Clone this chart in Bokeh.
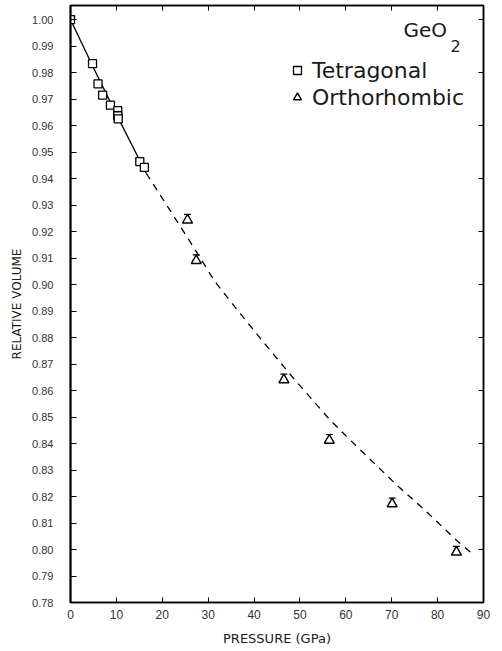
from bokeh.plotting import figure
from bokeh.models import (ColumnDataSource, Whisker, TeeHead, Legend, LegendItem,
                          Label, LinearAxis, FixedTicker, Range1d, PrintfTickFormatter,
                          CustomJSTickFormatter)
from bokeh.embed import file_html
from bokeh.resources import INLINE

# ---- data ----
tet_p = [0.0, 4.8, 6.0, 7.0, 8.7, 10.3, 10.3, 10.4, 15.1, 16.1]
tet_v = [1.000, 0.9834, 0.9757, 0.9715, 0.9677, 0.9656, 0.9637, 0.9625, 0.9464, 0.9442]

ort_p = [25.5, 27.4, 46.5, 56.4, 70.1, 84.1]
ort_v = [0.9243, 0.9090, 0.8640, 0.8412, 0.8172, 0.7990]
ort_err = [0.0022, 0.0022, 0.0022, 0.0022, 0.0022, 0.0022]

fit_solid_p = [0.0, 5.0, 10.0, 16.5]
fit_solid_v = [1.000, 0.9818, 0.9642, 0.9420]
fit_dash_p = [16.5, 22.8, 27.2, 31.5, 37.0, 41.7, 48.2, 56.5, 62.3, 71.0, 77.5, 84.1, 87.5]
fit_dash_v = [0.9420, 0.9250, 0.9130, 0.9010, 0.8890, 0.8790, 0.8654, 0.8490, 0.8390,
              0.8245, 0.8144, 0.8035, 0.7985]

x_ticks = [0, 10, 20, 30, 40, 50, 60, 70, 80, 90]
y_ticks = [0.78, 0.79, 0.80, 0.81, 0.82, 0.83, 0.84, 0.85, 0.86, 0.87, 0.88, 0.89,
           0.90, 0.91, 0.92, 0.93, 0.94, 0.95, 0.96, 0.97, 0.98, 0.99, 1.00]
y_ticks_right = [0.78, 0.80, 0.82, 0.84, 0.86, 0.88, 0.90, 0.92, 0.94, 0.96, 0.98, 1.00]

TICK_FONT = "Liberation Sans"
LABEL_FONT = "DejaVu Sans"
INK = "#1a1a1a"

p = figure(width=494, height=650, x_range=Range1d(0, 90), y_range=Range1d(0.78, 1.0053),
           output_backend="svg", toolbar_location=None,
           min_border_left=70, min_border_right=11, min_border_top=5, min_border_bottom=48)
p.xgrid.visible = False
p.ygrid.visible = False
p.outline_line_color = "black"
p.outline_line_width = 1.5
p.background_fill_color = "white"
p.border_fill_color = "white"

# bottom axis
xa = p.xaxis[0]
xa.ticker = FixedTicker(ticks=x_ticks, minor_ticks=[])
xa.formatter = PrintfTickFormatter(format="%d")
xa.major_tick_in = 5
xa.major_tick_out = 0
xa.minor_tick_in = 0
xa.minor_tick_out = 0
xa.axis_line_width = 1.5
xa.major_label_text_font = TICK_FONT
xa.major_label_text_font_size = "12px"
xa.major_label_text_color = "#333333"
xa.major_label_standoff = 7
xa.axis_label = "PRESSURE (GPa)"
xa.axis_label_text_font = LABEL_FONT
xa.axis_label_text_font_size = "13px"
xa.axis_label_text_font_style = "normal"
xa.axis_label_text_color = INK
xa.axis_label_standoff = 9

# left axis
ya = p.yaxis[0]
ya.ticker = FixedTicker(ticks=y_ticks, minor_ticks=[])
ya.formatter = PrintfTickFormatter(format="%.2f")
ya.major_tick_in = 6
ya.major_tick_out = 0
ya.minor_tick_in = 0
ya.minor_tick_out = 0
ya.axis_line_width = 2
ya.major_label_text_font = TICK_FONT
ya.major_label_text_font_size = "11px"
ya.major_label_text_color = "#333333"
ya.major_label_standoff = 17
ya.axis_label = "RELATIVE VOLUME"
ya.axis_label_text_font = LABEL_FONT
ya.axis_label_text_font_size = "12px"
ya.axis_label_text_font_style = "normal"
ya.axis_label_text_color = INK
ya.axis_label_standoff = 5

# top and right axes: inward ticks only, no labels
blank = CustomJSTickFormatter(code="return ''")
top = LinearAxis(ticker=FixedTicker(ticks=x_ticks, minor_ticks=[]), formatter=blank,
                 major_label_text_font_size="0px", major_label_standoff=0,
                 major_tick_in=5, major_tick_out=0, minor_tick_in=0, minor_tick_out=0,
                 axis_line_width=1.5)
p.add_layout(top, "above")
right = LinearAxis(ticker=FixedTicker(ticks=y_ticks_right, minor_ticks=[]), formatter=blank,
                   major_label_text_font_size="0px", major_label_standoff=0,
                   major_tick_in=5, major_tick_out=0, minor_tick_in=0, minor_tick_out=0,
                   axis_line_width=1.5)
p.add_layout(right, "right")

# fit curve
p.line(fit_solid_p, fit_solid_v, line_color="black", line_width=1.3)
p.line(fit_dash_p, fit_dash_v, line_color="black", line_width=1.3, line_dash="7 6")

# data
tet_src = ColumnDataSource(dict(p=tet_p, v=tet_v))
ort_src = ColumnDataSource(dict(p=ort_p, v=ort_v,
                                hi=[v + e for v, e in zip(ort_v, ort_err)]))

wh = Whisker(base="p", upper="hi", lower="v", source=ort_src, dimension="height",
             line_color="black", line_width=1,
             upper_head=TeeHead(size=7, line_color="black", line_width=1.2),
             lower_head=None)
p.add_layout(wh)

r_tet = p.scatter("p", "v", source=tet_src, marker="square", size=8,
                  fill_color="white", line_color="black", line_width=1.3)
r_ort = p.scatter("p", "v", source=ort_src, marker="triangle", size=10,
                  fill_color="white", line_color="black", line_width=1.4)

legend = Legend(items=[LegendItem(label="Tetragonal", renderers=[r_tet]),
                       LegendItem(label="Orthorhombic", renderers=[r_ort])],
                location=(217, 492), border_line_color=None, background_fill_alpha=0,
                label_text_font=LABEL_FONT, label_text_font_size="22px",
                label_text_color=INK, glyph_width=20, glyph_height=26,
                label_standoff=5, spacing=1, padding=0, margin=0)
p.add_layout(legend)

p.add_layout(Label(x=333, y=573, x_units="screen", y_units="screen", text="GeO",
                   text_font=LABEL_FONT, text_font_size="20px", text_color=INK,
                   text_baseline="alphabetic"))
p.add_layout(Label(x=380, y=557, x_units="screen", y_units="screen", text="2",
                   text_font=LABEL_FONT, text_font_size="16px", text_color=INK,
                   text_baseline="alphabetic"))

open("out.html", "w").write(file_html(p, INLINE))
